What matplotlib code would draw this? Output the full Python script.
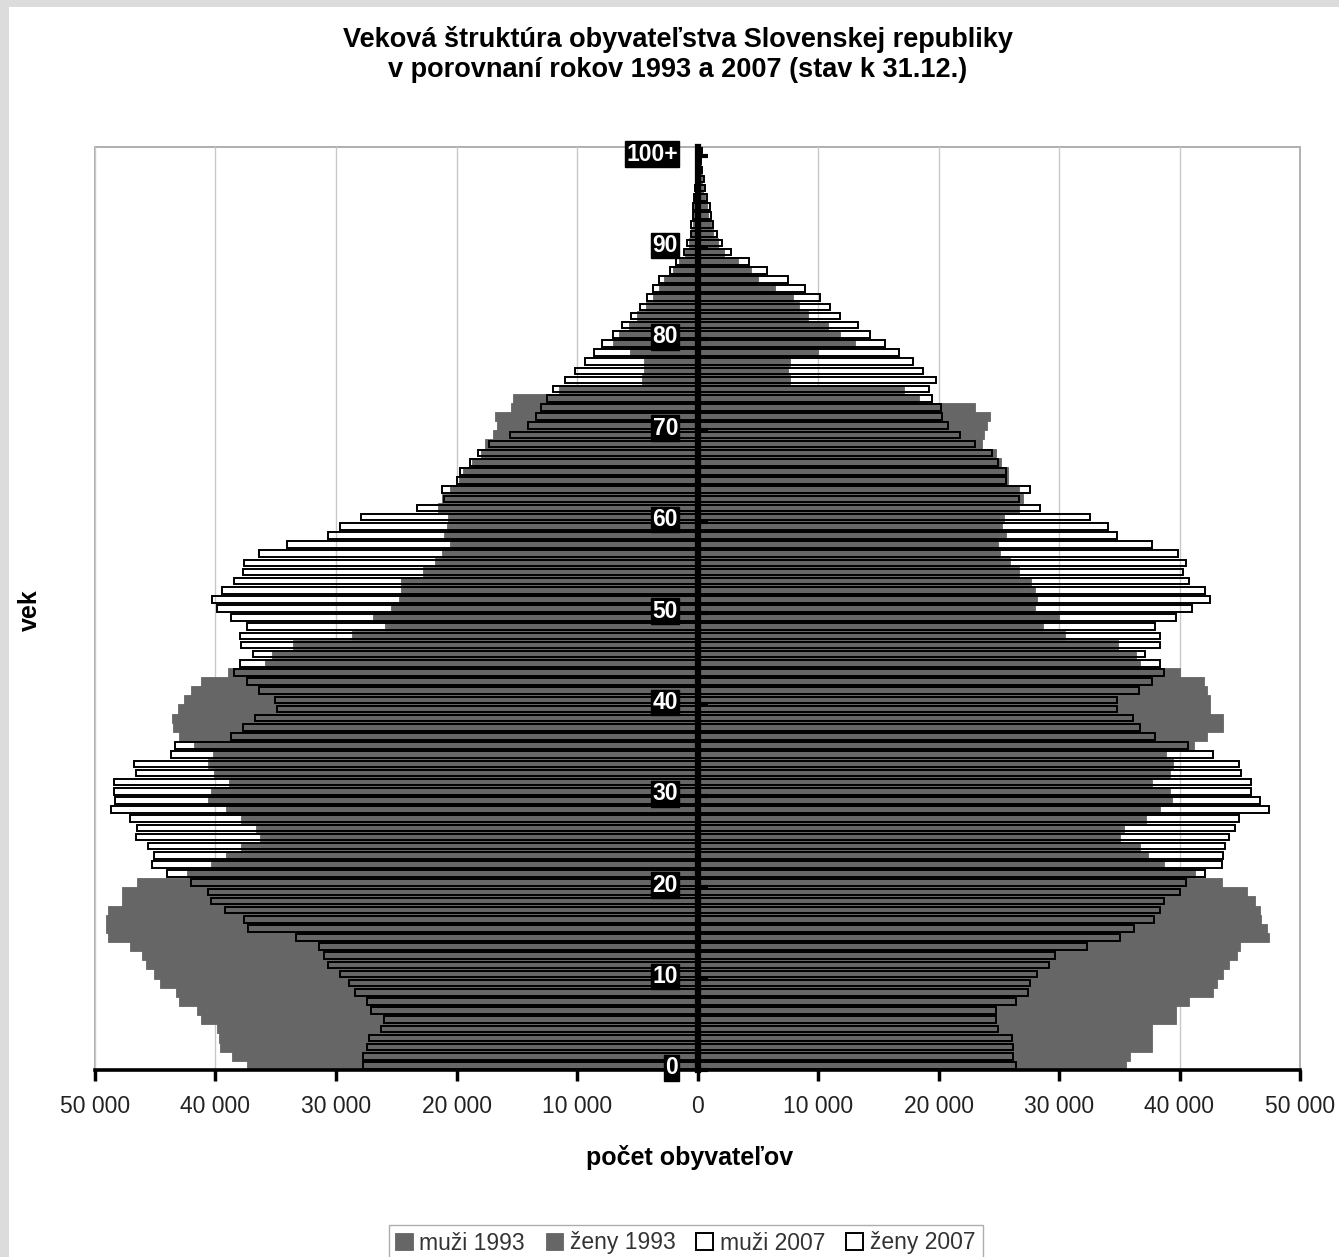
import matplotlib
matplotlib.use("Agg")
import matplotlib.pyplot as plt
from matplotlib.patches import Rectangle
from matplotlib.ticker import FuncFormatter, FixedLocator

plt.rcParams['font.family'] = ['Liberation Sans', 'DejaVu Sans']

# ages 0 .. 100+ (one bar per year of age)
ages = list(range(101))
age_ticks = [0, 10, 20, 30, 40, 50, 60, 70, 80, 90, 100]
age_tick_labels = ["0", "10", "20", "30", "40", "50", "60", "70", "80", "90", "100+"]

# population counts (31.12.)
muzi_1993 = [37400, 38600, 39600, 39700, 39900, 41200, 41500, 43000, 43300, 44600,
             45100, 45800, 46100, 47100, 48900, 49100, 49100, 48900, 47800, 47800,
             46500, 42400, 40400, 39100, 37900, 36300, 36600, 37900, 39100, 40600,
             40400, 38900, 40100, 40600, 40200, 41800, 43000, 43500, 43600, 43100,
             42600, 42000, 41200, 39000, 35900, 35300, 33600, 28700, 25900, 26900,
             25400, 24800, 24600, 24600, 22800, 21800, 21200, 20500, 21000, 20800,
             20700, 21500, 21200, 20500, 19800, 19500, 18700, 18000, 17600, 17000,
             16600, 16800, 15500, 15300, 11500, 4600, 4400, 4400, 5600, 7000,
             6500, 5700, 5000, 4300, 3700, 3200, 2800, 2000, 1500, 1000,
             700, 500, 400, 300, 250, 200, 150, 100, 80, 50,
             60]

zeny_1993 = [35600, 35900, 37700, 37700, 37700, 39700, 39700, 40800, 42800, 43100,
             43600, 44100, 44800, 45000, 47400, 47300, 46800, 46700, 46300, 45600,
             43500, 41300, 38700, 37400, 36700, 35100, 35400, 37200, 38400, 39400,
             39200, 37700, 39200, 39500, 38900, 41200, 42300, 43600, 43600, 42500,
             42500, 42300, 42000, 40000, 36700, 36400, 34900, 30500, 28700, 30000,
             28000, 28200, 28000, 27700, 26700, 25900, 25100, 24900, 25600, 25300,
             25400, 26700, 27000, 26700, 25800, 25800, 25200, 24800, 23600, 23800,
             24000, 24300, 23000, 18400, 17100, 7700, 7500, 7700, 10000, 13100,
             11800, 10800, 9200, 8400, 7900, 6400, 5000, 4400, 3400, 2200,
             1700, 1300, 1100, 900, 750, 600, 450, 350, 250, 150,
             250]

muzi_2007 = [27800, 27800, 27400, 27300, 26300, 26000, 27100, 27400, 28400, 28900,
             29700, 30700, 31000, 31400, 33300, 37300, 37600, 39200, 40400, 40600,
             42000, 44000, 45300, 45100, 45600, 46600, 46500, 47100, 48700, 48300,
             48400, 48400, 46600, 46800, 43700, 43400, 38700, 37700, 36700, 34900,
             35100, 36400, 37400, 38500, 38000, 36900, 37900, 38000, 37400, 38700,
             39900, 40300, 39500, 38500, 37700, 37600, 36400, 34100, 30700, 29700,
             27900, 23300, 21000, 21200, 20000, 19700, 18900, 18200, 17300, 15600,
             14100, 13400, 13000, 12500, 12000, 11000, 10200, 9300, 8600, 7900,
             7000, 6300, 5500, 4800, 4150, 3700, 3200, 2300, 1800, 1100,
             830, 550, 500, 400, 350, 280, 200, 150, 100, 80,
             100]

zeny_2007 = [26400, 26200, 26200, 26100, 24900, 24800, 24800, 26400, 27400, 27600,
             28200, 29200, 29700, 32300, 35100, 36200, 37900, 38400, 38700, 40000,
             40500, 42100, 43500, 43600, 43800, 44100, 44600, 44900, 47400, 46700,
             45900, 45900, 45100, 44900, 42800, 40700, 38000, 36700, 36100, 34800,
             34800, 36600, 37700, 38700, 38400, 37100, 38400, 38400, 38000, 39700,
             41000, 42500, 42100, 40800, 40300, 40500, 39900, 37700, 34800, 34100,
             32600, 28400, 26700, 27600, 25600, 25600, 24900, 24400, 23000, 21800,
             20800, 20300, 20200, 19500, 19200, 19800, 18700, 17900, 16700, 15600,
             14300, 13300, 11800, 11000, 10200, 8900, 7500, 5800, 4300, 2800,
             2000, 1600, 1300, 1150, 1000, 800, 650, 500, 350, 250,
             400]

fig = plt.figure(figsize=(13.39, 12.57), dpi=100)
fig.patch.set_facecolor("#dcdcdc")
fig.add_artist(Rectangle((9 / 1339, 0), 1, 1 - 7 / 1257, transform=fig.transFigure,
                         facecolor="white", edgecolor="none", zorder=0))

ax = fig.add_axes([95 / 1339, 1 - 1070 / 1257, 1205 / 1339, 923 / 1257])
ax.set_facecolor("none")

gray = "#666666"
# 1993 - solid gray, no gaps
ax.barh(ages, [-v for v in muzi_1993], height=1.0, color=gray, edgecolor=gray,
        linewidth=0.6, zorder=1, label="muži 1993")
ax.barh(ages, zeny_1993, height=1.0, color=gray, edgecolor=gray,
        linewidth=0.6, zorder=1, label="ženy 1993")
# 2007 - outlined bars on top
ax.barh(ages, [-v for v in muzi_2007], height=0.72, facecolor="none", edgecolor="black",
        linewidth=1.4, zorder=2, label="muži 2007")
ax.barh(ages, zeny_2007, height=0.72, facecolor="none", edgecolor="black",
        linewidth=1.4, zorder=2, label="ženy 2007")

ax.set_xlim(-50000, 50000)
ax.set_ylim(-0.5, 100.5)

# vertical grid
ax.set_xticks(range(-50000, 50001, 10000))
ax.xaxis.grid(True, color="#c8c8c8", linewidth=1.0)
ax.set_axisbelow(True)
ax.yaxis.set_zorder(8)   # age labels stay above the bars
ax.xaxis.set_major_formatter(FuncFormatter(lambda v, p: "{:,}".format(int(abs(v))).replace(",", " ")))
ax.tick_params(axis="x", direction="out", length=8, width=2.5, color="black",
               labelsize=16.5, pad=10, labelcolor="#222222")

# frame
ax.add_patch(Rectangle((0, 0), 1, 1, transform=ax.transAxes, fill=False,
                       edgecolor="#a8a8a8", linewidth=1.3, zorder=0.5, clip_on=False))
ax.spines["top"].set_visible(False)
ax.spines["right"].set_visible(False)
ax.spines["bottom"].set_linewidth(2.6)
ax.spines["bottom"].set_color("black")
ax.spines["bottom"].set_zorder(5)

# age axis in the middle
ax.spines["left"].set_position(("data", 0))
ax.spines["left"].set_linewidth(4.5)
ax.spines["left"].set_color("black")
ax.spines["left"].set_zorder(6)
ax.set_yticks(age_ticks)
ax.set_yticklabels(age_tick_labels)
ax.yaxis.set_minor_locator(FixedLocator([t - 0.5 for t in age_ticks]))
ax.tick_params(axis="y", which="major", length=0, pad=14, labelsize=16.5, labelcolor="white")
ax.tick_params(axis="y", which="minor", direction="in", length=7, width=3, color="black")
for lab in ax.get_yticklabels():
    lab.set_fontweight("bold")
    lab.set_bbox(dict(facecolor="black", edgecolor="black", pad=1.0))

# titles
fig.text(0.506, 0.957, "Veková štruktúra obyvateľstva Slovenskej republiky\n"
         "v porovnaní rokov 1993 a 2007 (stav k 31.12.)",
         ha="center", va="center", fontsize=19.5, fontweight="bold", linespacing=1.2)
fig.text(0.515, 1 - 1158 / 1257, "počet obyvateľov", ha="center", va="center",
         fontsize=18, fontweight="bold")
fig.text(30 / 1339, 1 - 610 / 1257, "vek", ha="center", va="center", rotation=90,
         fontsize=18, fontweight="bold")

leg = ax.legend(loc="center", bbox_to_anchor=(0.512, 1 - 1243 / 1257),
                bbox_transform=fig.transFigure, ncol=4, frameon=True, fancybox=False,
                edgecolor="#999999", handlelength=0.75, handleheight=0.75,
                handletextpad=0.3, columnspacing=0.9, fontsize=16.5, borderpad=0.3)
leg.get_frame().set_linewidth(1.0)
for t in leg.get_texts():
    t.set_color("#333333")

fig.savefig("out.png", dpi=100, facecolor=fig.get_facecolor())
